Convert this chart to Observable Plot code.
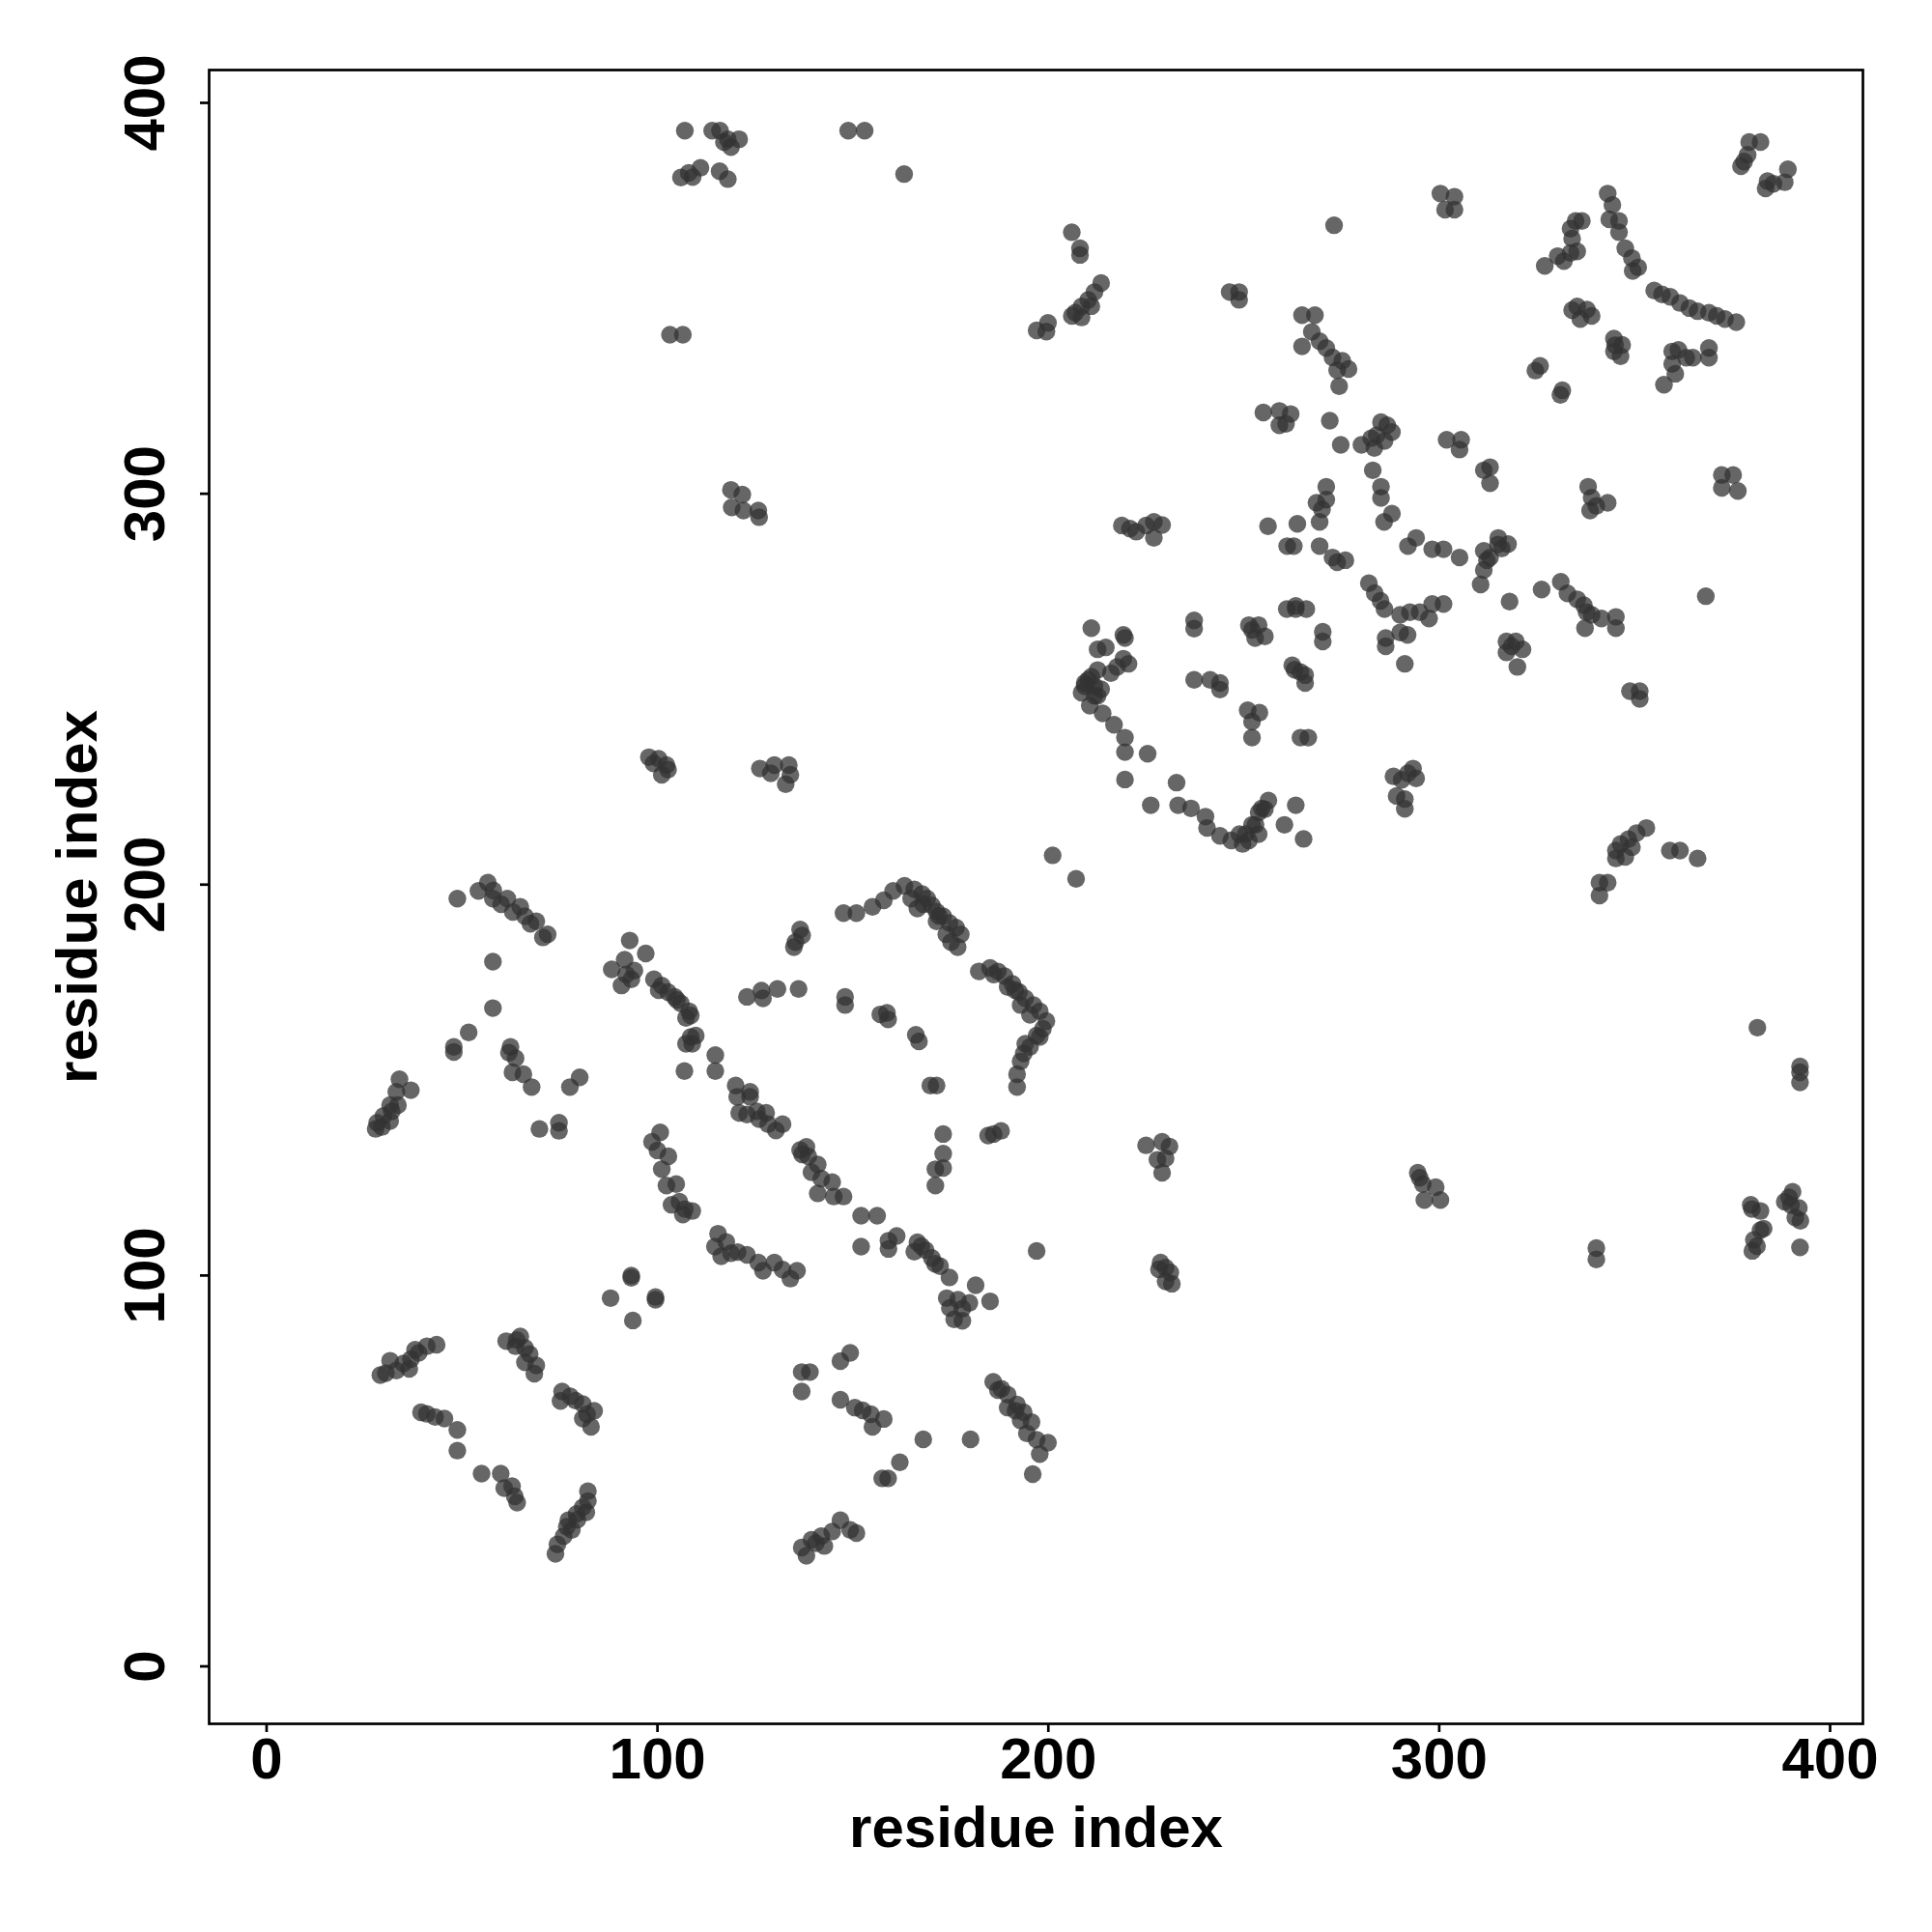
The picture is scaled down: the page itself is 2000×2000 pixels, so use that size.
<!DOCTYPE html>
<html>
<head>
<meta charset="utf-8">
<script src="https://cdn.jsdelivr.net/npm/d3@7"></script>
<script src="https://cdn.jsdelivr.net/npm/@observablehq/plot@0.6"></script>
<style>
  html, body { margin: 0; padding: 0; background: #fff; }
</style>
</head>
<body>
<div id="chart"></div>
<script>
// Axis ticks and titles
const xTicks = [0, 100, 200, 300, 400];
const yTicks = [0, 100, 200, 300, 400];
const xTitle = "residue index";
const yTitle = "residue index";

// Contacts [residue i, residue j], grouped by region of the map
const contactsTopLeft = [
  [107,392.9],[114,392.9],[116,392.9],[118,390.7],[120.9,390.7],[118.8,388.7],[117,390],
  [106,380.9],[108,382.1],[111,383.4],[115.9,382.5],[118,380.5],[109,381],
  [103.2,340.7],[106.5,340.7],
  [118.8,301],[121.7,299.8],[119,296.5],[122,295.7],[125.8,295.7],[126,294],
  [148.8,392.9],[153,392.9],[163.1,381.8]
];
const contactsTopMid = [
  [206,366.9],[208.1,362.8],[208.1,361.1],
  [213.5,353.9],[211.8,351.6],[210.2,349.6],[208.5,347.9],[206.9,346.3],[206,345.5],[208.5,345.1],[211,348],
  [197,341.8],[199.9,343.7],[199.5,341.5],
  [246.4,351.6],[248.8,351.6],[248.8,349.6],
  [264.9,345.7],[268.2,345.7],
  [267.4,341.4],[269.4,339],[271.1,337.3],[272.7,334.9],[273.9,331.6],[274.4,327.5],[264.9,337.7],[275.2,334],[276.8,331.9],
  [255,320.8],[259.1,321.2],[262,320.4],[260.8,317.9],[259.1,317.5],[272,318.7],[274.8,312.5],
  [271.1,301.8],[271.1,298.5],[268.6,297.7],[269.4,292.8],[270,296],
  [256.2,291.7],[263.7,292.3],[262.8,286.6],[261.1,286.6],
  [269.4,286.6],[272.7,283.7],[273.9,282.5],[276,283],[263.3,271.3],
  [218.8,291.9],[220.9,291.1],[222.5,290.3],[225,291.9],[227,292.8],[229.1,292],[227,288.7]
];
const contactsTopRight = [
  [379.3,390],[382.2,390],[378.9,386.7],[377.2,383.8],[378,385],
  [389.2,383],[388.4,379.7],[385.5,379.3],[383.5,378.1],[384,380],
  [273.1,368.7],
  [300.3,376.8],[303.9,376],[301.5,372.7],[303.9,372.7],
  [343.1,376.8],[344.3,373.9],[343.5,370.2],[346,369.8],[346,366.9],[347.6,362.8],[349.3,360.3],[350.9,357.9],[349.5,357],
  [334.9,369.8],[336.5,369.8],[333.6,367.8],[334,365.3],[335.3,362],[333.6,361.6],[330.3,360.8],[327,358.3],[331.9,359.5],
  [355,352],[357,351],[359.1,350.4],[361.6,348.8],[364,347.5],[366.1,346.7],[369,346.3],[371,345.5],[373.1,344.7],[376,343.9],
  [335.3,347.9],[337.8,347.1],[339,345.5],[336.1,344.7],[334,347],
  [344.7,339.7],[346.8,338.1],[344.7,336.4],[346.4,335.2],[345,338],
  [359.6,336.4],[361.2,336.8],[364.9,334.8],[369,337.3],[369,334.8],[359.6,333.2],[360.4,330.7],[357.5,327.9],[363.2,334.8],
  [325.8,332.7],[324.6,331.5],[331.5,326.5],[331,325.3],
  [285.1,318.3],[286.7,317.5],[287.9,315.8],[282.6,314.2],[280.1,312.5],[283.4,311.7],[284,315],[286,313.5],
  [301.9,313.8],[305.6,313.8],[305.2,311.3],
  [311.4,306],[313,306.8],[313,302.7],
  [283,306],[285.1,301.8],[285.1,298.9],
  [285.9,292.8],[287.9,294.9],
  [292,286.6],[294.1,288.7],[298.2,285.8],[301.1,285.8],[305.2,283.7],
  [315.1,288.7],[317.6,287.1],[311.4,285.4],[312.2,283],[311.4,280.5],[310.6,276.8],[313,283.7],[315,287],[316,286],
  [282,277.1],[283.5,274.6],[285,272.6],[286,270.5],
  [318,272.4],
  [326.2,275.5],[331.1,277.5],[332.8,274.5],[335.3,273],[337,271.5],[337.7,269.7],[337.3,265.6],[341.5,268.1],[345.2,268.5],[345.2,265.6],[339,269],
  [368.2,273.8],
  [372.3,304.8],[375.2,304.8],[372.3,301.5],[376.4,300.7],
  [338.1,301.8],[343.1,297.7],[338.6,295.7],[340.2,296.9],[339,299]
];
const contactsMidLeft = [
  [97.8,232.6],[100.3,232.2],[102.3,230.6],[102.7,229.4],[101.1,228.1],[99,231],
  [126.2,229.7],[129.9,230.6],[133.6,230.6],[134,228.1],[132.8,225.7],[129,228.5],
  [48.8,196.4],
  [54.2,198.4],[56.6,200.5],[57.9,196.4],[61.6,196.4],[64.9,194.3],[66.1,191.9],[69,190.6],[71.9,187.3],[70.7,186.5],[60,195],[63,193],[67.5,190],[58,198.5],
  [57.9,180.3],[57.9,168.4],[51.7,162.2],[47.9,158.5],[47.9,157.2],
  [62.4,158.5],[63.7,155.6],[65.7,151.5],[62.9,152],[62,157],
  [67.8,148.2],[80.1,150.7],[77.6,148.2],
  [92.9,185.7],[97,182.4],[88.3,178.3],[91.6,180.8],[93.3,175.8],[90.8,174.2],[94.1,178],[92,177],
  [99.1,175.8],[101.1,174.2],[102.7,172.5],[104.4,171.3],[106,169.6],[108.1,167.6],[107.3,165.9],[100.3,173],[105,170.5],[108.5,166.5],
  [109.8,161.4],[107.3,159.3],[108.9,159.3],[108.5,161],
  [106.9,152.3],[114.8,156.4],[114.8,152.3],
  [120,148.6],[123.7,147],
  [122.9,171.3],[126.6,172.9],[130.7,173.3],[136.1,173.3],[127,170.9],
  [136.5,188.5],[135.3,185.3],[134.9,184],[137,187],
  [148,171.3],[148,169.2]
];
const contactsCentre = [
  [211,265.6],[219.2,263.9],[219.6,263.1],
  [237.3,267.6],[237.3,265.5],
  [251.3,266.4],[253.8,266.4],[255.4,263.5],[252.9,263.1],[252.1,265.2],
  [261,270.5],[263.3,270.5],[266,270.5],
  [270.2,264.7],[270.2,262.2],
  [262.4,256.1],[264.5,254.4],[265.7,253.6],[265.7,251.6],[263,255],
  [237.3,252.4],[241.4,252.4],[243.9,251.6],[243.9,249.9],
  [251,244.6],[252.1,241.7],[252.1,237.6],[254,244],
  [266.5,237.6],[264.5,237.6],
  [214.7,260.7],[212.6,260.2],[219.2,257.8],[220.5,256.5],[217.6,255.7],[216,254.1],[212.6,254.9],[211,253.2],[209.3,251.6],[208.5,249.1],
  [211.8,248.3],[210.6,245.8],[213.9,243.8],[216.8,240.9],[219.6,237.6],[219.6,233.9],[225.4,233.5],[219.6,226.9],[232.8,226.1],[226.2,220.3],
  [233.2,220.3],[236.5,219.5],[240.2,217.4],[240.6,214.5],[243.9,212.5],[246.8,211.3],[249.7,210.4],[250.5,212.9],[253,215.3],[254.6,219.5],
  [256.3,221.5],[260.4,215.3],[263.3,220.3],[265.3,211.7],
  [210.2,252.4],[211.8,250.8],[213.5,250],[212.6,248.3],[209.3,250.8],
  [253.8,218.5],[252.1,215.3],[248.9,212.9],[255.4,219.3],[251.3,211.3],[253.8,212.9],
  [201.1,207.5],[207.1,201.5],
  [147.6,192.7],[150.9,192.7],[155,194.3],[157.9,196],[160.3,198.4],[163.2,199.7],[165.7,198.8],[167.7,197.6],[169,196.4],[170.2,194.7],
  [171.4,193.1],[173.1,191.9],[174.7,190.2],[176.4,189],[177.6,187.3],[176.8,184],[175.1,185.3],[164.9,196.4],[166.5,193.9],[171.4,190.6],
  [173.9,187.3],[168,195],[172,192],
  [182.2,177.8],[185.1,178.7],[187.1,177.8],[188.8,176.6],[190.8,174.6],[192.5,172.5],[194.1,170.9],[196.2,169.2],[197.8,167.6],[199.5,165.1],
  [198.6,163.1],[195.3,166.7],[192.9,169.2],[189.6,173.8],[186,177],[191.5,173],
  [197,161.4],[194.1,159.3],[193.7,156.8],[192.9,154.8],[192,151.5],[192,148.2],[197.8,161],[195.3,158.5],
  [158.7,167.2],[159,165.5],[157,166.8],
  [166.1,161.6],[166.9,159.9],
  [169.8,148.6],[171.4,148.6]
];
const contactsMidRight = [
  [286.3,263.1],[286.3,261],[291.9,263.9],[290,264.5],[291.2,256.5],
  [292.5,269.7],[295,269.7],[298.2,271.8],[301.1,271.8],[297.4,268.1],[290,269],
  [317.2,262.2],[319.6,262.2],[321.3,260.2],[317.2,259.4],[320,255.7],[318.5,261],
  [348.8,249.5],[351.3,249.5],[351.3,247.5],
  [288.3,227.7],[293.3,229.7],[294.1,227.2],[290.4,226.8],[289.1,222.7],[291.2,221.9],[291.2,219.4],[292,228.5],
  [353,214.5],[350.5,213.2],[348.4,211.6],[346.4,210.4],[345.2,208.7],[345.2,206.7],[347.6,207.1],[349.3,209.6],
  [361.6,208.7],[359,208.7],[366.1,206.7],
  [341,200.5],[343.1,200.5],[341,197.2],
  [381.4,163.4],
  [392.3,153.5],[392.3,149.4],[392.3,152]
];
const contactsBottomLeft = [
  [34,150.2],[36.9,147.4],[33.2,147],[31.6,143.6],[33.6,143.6],[29.9,140.8],[28.3,139.1],[27.9,137.5],[31.6,139.5],[29.5,138],[32,142],
  [69.8,137.5],[74.8,139.1],[74.8,137],
  [120.4,145.7],[123.7,145.7],[120.9,141.6],[122.9,141.2],[125.4,142],[127.8,141.6],[128.3,138.7],[130.3,137.1],[132,138.7],[126,140],
  [136.5,132.1],[138.1,132.9],[138.6,130.5],[141,128.4],[139.4,126.4],[141.9,124.8],[144.7,123.9],[141,121],[145.1,120.2],[147.6,120.2],[137,131],
  [100.7,136.6],[98.6,134.2],[102.8,130.5],[101.1,127.2],[104.8,123.4],[102.3,123],[105.6,118.9],[108.9,116.5],[106.5,115.6],[103.6,118.1],[100,132],[107,117],
  [115.5,110.7],[117.6,108.6],[114.7,107.4],[118.8,105.7],[122.9,105.3],[125.8,103.3],[129.9,103.3],[134,99.2],[135.7,101.2],[127,101.2],[116.3,104.9],[120.5,106],[132,101.5],
  [93.3,100],[88,94.2],[99.5,93.8],[93.7,88.5],[93.3,99.4],[99.5,94.5],
  [43.5,82.3],[41,81.9],[38.9,80.2],[36.9,78.6],[31.6,78.2],[29.1,74.5],[36.5,76.1],[33.2,75.7],[35,77.5],[30.5,75],[38,81],
  [64.9,84.4],[61.3,83.2],[66.1,81.5],[67.3,79.9],[66.1,77.8],[69,77],[68.5,74.9],[63.7,81.9],[64,83.5],
  [75.6,70.3],[77.7,69.1],[80.9,67.1],[83.8,65.4],[83,61.3],[80.9,63.4],[75.2,67.9],[79,68],[82,64.5],
  [41,64.6],[45.5,63.4],[48.8,60.5],[48.8,55.2],[43.1,63.8],[39.5,65],
  [55,49.3],[59.9,49.3],[62.8,46.1],[64.1,41.9],[60.8,45.6],[63.5,43.5],
  [82.2,44.8],[82.2,42.3],[81.8,39.4],[79.3,39],[77.2,37.4],[76.8,35.7],[76,33.3],[74.4,31.2],[73.9,28.8],[78.1,34.9],[80.9,40.7],[79.5,37.5],
  [146.8,37.4],[149.3,34.9],[144.7,34.5],[141.9,33.3],[139.4,32.4],[136.9,30.4],[138.1,28.3],[142.7,30.8],[140.5,31.5],[150.9,34.1],
  [146.8,78.1],[149.3,80.2],
  [136.9,75.3],[139,75.3],[136.9,70.3],
  [146.8,68.2],[150.5,66.2]
];
const contactsBottomMid = [
  [173.1,136.2],[173.1,131.2],[171.1,127.2],[173.1,127.5],[171.1,123],
  [184.6,135.8],[187.9,137],[186,136.2],
  [225,133.3],[229.1,134.2],[230,130],[229.1,126.3],[227.9,129.6],[231,133],
  [152.1,115.3],[156.2,115.3],[152.1,107.4],
  [159.1,108.9],[161.2,110.1],[159.1,106.8],
  [166.5,108.5],[168.6,106.5],[170.2,104.5],[172.3,102.4],[174.7,99.5],[165.7,106.1],[171,103],[167.5,107.5],
  [181.4,97.5],[174,94.2],[176.9,93.8],[179.8,93],[185.1,93.4],[175.9,88.8],[178,88.4],[174.8,91.7],[178,91.5],
  [197,106.3],
  [228.7,103.3],[231.2,100.8],[231.6,97.9],[228.3,101.6],[230,102],[230,98.5],
  [154.6,64.5],[157.9,63.3],[155,61.3],[152.5,65.5],
  [168,58.1],[180.1,58.1],
  [162,52.2],[157.5,48.1],[159,48.1],
  [185.9,72.8],[187.1,70.7],[189.6,69.5],[189.6,66.2],[191.6,65.4],[193.7,65],[195.7,62.5],[194.5,59.6],[199.9,57.2],[197,58],
  [197.8,54.3],[196,49.2],[192.9,62.9],[188,71],[192,67]
];
const contactsBottomRight = [
  [294.5,126.3],[295.8,123.4],[299.1,122.6],[296.2,119.3],[300.3,119.3],[295,125],
  [340.2,107],[340.2,104.1],
  [379.7,118.1],[382.2,116.5],[382.2,111.6],[380.5,109.1],[380.1,106.3],[381.3,107.5],[383,112],[380,117],
  [390.4,121.4],[388.4,118.9],[392,117.3],[391.1,114.8],[392.4,114],[390,118],[389.5,120],
  [392.3,107.2]
];

const contacts = [
  ...contactsTopLeft, ...contactsTopMid, ...contactsTopRight,
  ...contactsMidLeft, ...contactsCentre, ...contactsMidRight,
  ...contactsBottomLeft, ...contactsBottomMid, ...contactsBottomRight
].map(([i, j]) => ({i, j}));

const W = 2000, H = 2000;
const chart = Plot.plot({
  width: W,
  height: H,
  marginLeft: 216,
  marginRight: 72,
  marginTop: 72,
  marginBottom: 216,
  style: {
    background: "#fff",
    color: "#000",
    fontFamily: "'Liberation Sans', Arial, Helvetica, sans-serif",
    fontWeight: "bold",
    fontSize: "60px"
  },
  x: {domain: [-14.7, 408.4], label: null},
  y: {domain: [-14.7, 408.4], label: null},
  marks: [
    Plot.dot(contacts, {x: "i", y: "j", r: 9.2, fill: "#333", fillOpacity: 0.75, stroke: "none"}),
    Plot.frame({stroke: "#000", strokeWidth: 2.7}),
    Plot.axisX(xTicks, {tickSize: 9, tickPadding: 5, strokeWidth: 2.7, label: null, fontSize: 60, fontWeight: "bold"}),
    Plot.axisY(yTicks, {tickSize: 9, strokeWidth: 2.7, label: null, tickFormat: () => ""}),
    Plot.text(yTicks, {y: d => d, text: d => String(d), frameAnchor: "left", dx: -66, rotate: -90,
      textAnchor: "middle", lineAnchor: "middle", fontSize: 60, fontWeight: "bold", fill: "#000"}),
    Plot.text([xTitle], {text: d => d, frameAnchor: "bottom", dy: 108, textAnchor: "middle", lineAnchor: "middle",
      fontSize: 60, fontWeight: "bold", fill: "#000"}),
    Plot.text([yTitle], {text: d => d, frameAnchor: "left", dx: -136, rotate: -90, textAnchor: "middle", lineAnchor: "middle",
      fontSize: 60, fontWeight: "bold", fill: "#000"})
  ]
});
document.getElementById("chart").appendChild(chart);
</script>
</body>
</html>
